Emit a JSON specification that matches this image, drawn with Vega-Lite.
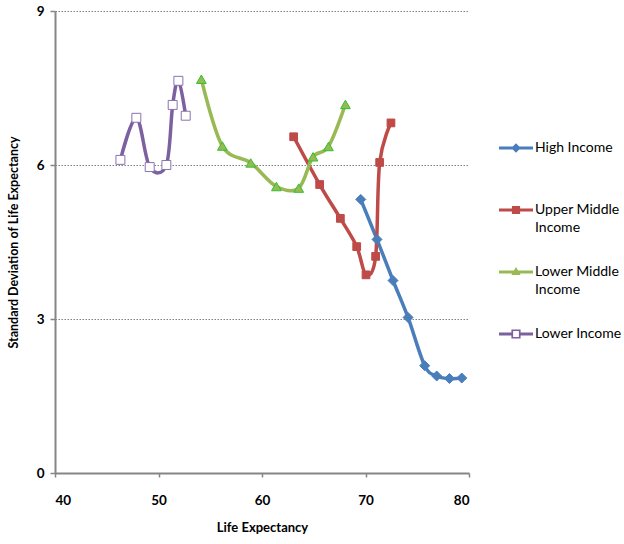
{
  "$schema": "https://vega.github.io/schema/vega-lite/v6.json",
  "width": 414,
  "height": 462,
  "autosize": "none",
  "padding": {"left": 55, "top": 11, "right": 155, "bottom": 71},
  "background": "white",
  "data": {
    "values": [
      {"series": "High Income", "le": 69.54, "sd": 5.33},
      {"series": "High Income", "le": 71.11, "sd": 4.55},
      {"series": "High Income", "le": 72.66, "sd": 3.75},
      {"series": "High Income", "le": 74.11, "sd": 3.03},
      {"series": "High Income", "le": 75.72, "sd": 2.09},
      {"series": "High Income", "le": 76.88, "sd": 1.89},
      {"series": "High Income", "le": 78.11, "sd": 1.84},
      {"series": "High Income", "le": 79.3, "sd": 1.85},
      {"series": "Upper Middle Income", "le": 63.06, "sd": 6.55},
      {"series": "Upper Middle Income", "le": 65.57, "sd": 5.62},
      {"series": "Upper Middle Income", "le": 67.57, "sd": 4.96},
      {"series": "Upper Middle Income", "le": 69.15, "sd": 4.41},
      {"series": "Upper Middle Income", "le": 70.05, "sd": 3.86},
      {"series": "Upper Middle Income", "le": 70.98, "sd": 4.22},
      {"series": "Upper Middle Income", "le": 71.37, "sd": 6.05},
      {"series": "Upper Middle Income", "le": 72.46, "sd": 6.82},
      {"series": "Lower Middle Income", "le": 54.14, "sd": 7.67},
      {"series": "Lower Middle Income", "le": 56.17, "sd": 6.37},
      {"series": "Lower Middle Income", "le": 58.91, "sd": 6.04},
      {"series": "Lower Middle Income", "le": 61.39, "sd": 5.58},
      {"series": "Lower Middle Income", "le": 63.55, "sd": 5.55},
      {"series": "Lower Middle Income", "le": 64.93, "sd": 6.16},
      {"series": "Lower Middle Income", "le": 66.42, "sd": 6.36},
      {"series": "Lower Middle Income", "le": 68.06, "sd": 7.18},
      {"series": "Lower Income", "le": 46.32, "sd": 6.1},
      {"series": "Lower Income", "le": 47.86, "sd": 6.92},
      {"series": "Lower Income", "le": 49.15, "sd": 5.96},
      {"series": "Lower Income", "le": 50.76, "sd": 6.0},
      {"series": "Lower Income", "le": 51.37, "sd": 7.17},
      {"series": "Lower Income", "le": 51.92, "sd": 7.64},
      {"series": "Lower Income", "le": 52.63, "sd": 6.96}
    ]
  },
  "encoding": {
    "x": {
      "field": "le",
      "type": "quantitative",
      "title": "Life Expectancy",
      "scale": {"domain": [40, 80], "nice": false, "zero": false},
      "axis": {"values": [40, 50, 60, 70, 80], "grid": false, "tickSize": 4, "labelPadding": 16, "titlePadding": 15, "titleFontSize": 13}
    },
    "y": {
      "field": "sd",
      "type": "quantitative",
      "title": "Standard Deviation  of Life Expectancy",
      "scale": {"domain": [0, 9], "nice": false},
      "axis": {"values": [0, 3, 6, 9], "grid": true, "tickSize": 5, "labelPadding": 6, "titlePadding": 16}
    }
  },
  "layer": [
    {
      "mark": {"type": "line", "interpolate": "cardinal", "strokeWidth": 3.5},
      "encoding": {
        "color": {
          "field": "series",
          "type": "nominal",
          "title": null,
          "scale": {
            "domain": ["High Income", "Upper Middle Income", "Lower Middle Income", "Lower Income"],
            "range": ["#4a7ebb", "#be4b48", "#98b954", "#7d60a0"]
          },
          "legend": {
            "orient": "none",
            "legendX": 444,
            "legendY": 120,
            "padding": 0,
            "rowPadding": 20,
            "labelOffset": 2,
            "symbolSize": 1156,
            "symbolType": "M-1,-0.09H1V0.09H-1Z",
            "symbolStrokeWidth": 0,
            "labelFontSize": 14,
            "labelColor": "black",
            "labelLimit": 200,
            "labelExpr": "datum.label == 'Upper Middle Income' ? ['Upper Middle', 'Income'] : datum.label == 'Lower Middle Income' ? ['Lower Middle', 'Income'] : [datum.label, ' ']",
            "encode": {
              "symbols": {
                "update": {
                  "shape": [
                    {"test": "datum.value === 'High Income'", "value": "M-1,-0.09H1V0.09H-1Z M0,-0.28L0.28,0L0,0.28L-0.28,0Z"},
                    {"test": "datum.value === 'Upper Middle Income'", "value": "M-1,-0.09H1V0.09H-1Z M-0.24,-0.24H0.24V0.24H-0.24Z"},
                    {"test": "datum.value === 'Lower Middle Income'", "value": "M-1,-0.09H1V0.09H-1Z M0,-0.3L0.27,0.18H-0.27Z"},
                    {"value": "M-1,-0.09H-0.27V0.09H-1Z M0.27,-0.09H1V0.09H0.27Z M-0.27,-0.27H0.27V0.27H-0.27Z M-0.17,-0.17V0.17H0.17V-0.17Z"}
                  ],
                  "size": {"value": 1156},
                  "fill": {"scale": "color", "field": "value"},
                  "stroke": {"value": "transparent"},
                  "strokeWidth": {"value": 0},
                  "opacity": {"value": 1}
                }
              },
              "labels": {
                "update": {
                  "lineHeight": {"value": 18}
                }
              }
            }
          }
        }
      }
    },
    {
      "transform": [{"filter": "datum.series === 'High Income'"}],
      "mark": {"type": "point", "shape": "diamond", "filled": true, "size": 100, "fill": "#4a7ebb", "stroke": "#4a7ebb", "strokeWidth": 1, "opacity": 1}
    },
    {
      "transform": [{"filter": "datum.series === 'Upper Middle Income'"}],
      "mark": {"type": "point", "shape": "square", "filled": true, "size": 60, "fill": "#be4b48", "stroke": "#be4b48", "strokeWidth": 1, "opacity": 1}
    },
    {
      "transform": [{"filter": "datum.series === 'Lower Middle Income'"}],
      "mark": {"type": "point", "shape": "triangle-up", "filled": true, "size": 95, "fill": "#98b954", "stroke": "#2fc22f", "strokeWidth": 1, "opacity": 1}
    },
    {
      "transform": [{"filter": "datum.series === 'Lower Income'"}],
      "mark": {"type": "point", "shape": "square", "filled": true, "size": 80, "fill": "#ffffff", "stroke": "#8a72b0", "strokeWidth": 1, "opacity": 1}
    }
  ],
  "config": {
    "font": "Lato",
    "view": {"stroke": null},
    "axis": {
      "domainColor": "#868686",
      "domainWidth": 2,
      "tickColor": "#868686",
      "tickWidth": 1.5,
      "labelFont": "Lato",
      "labelFontWeight": "bold",
      "labelFontSize": 13.5,
      "labelColor": "black",
      "titleFont": "Lato",
      "titleFontWeight": "bold",
      "titleFontSize": 12.5,
      "titleColor": "black",
      "gridColor": "#7f7f7f",
      "gridDash": [1.5, 1.5],
      "gridWidth": 1
    },
    "legend": {"labelFont": "Lato"}
  }
}
